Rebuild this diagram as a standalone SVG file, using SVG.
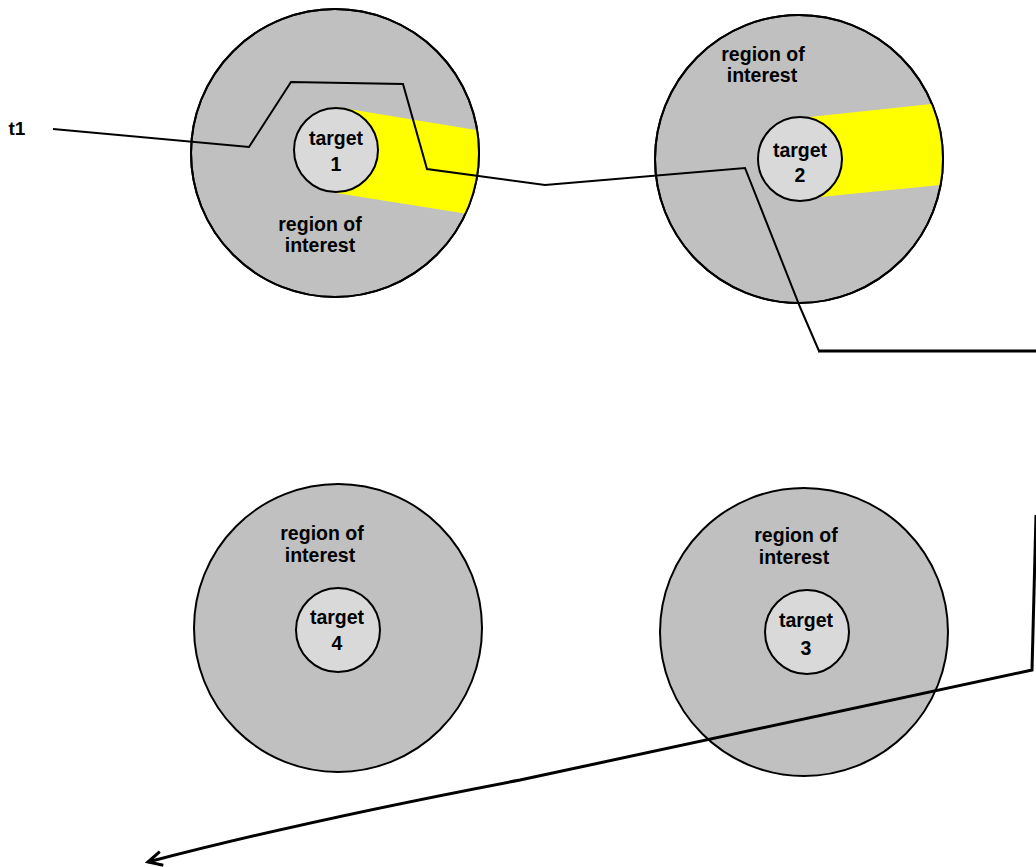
<svg xmlns="http://www.w3.org/2000/svg" width="1036" height="867" viewBox="0 0 1036 867">
<style>
.roi{fill:#c0c0c0;stroke:#000;stroke-width:2}
.tgt{fill:#d9d9d9;stroke:#000;stroke-width:2}
.band{fill:#ffff00}
text{font-family:"Liberation Sans",Arial,sans-serif;font-weight:bold;font-size:19.5px;fill:#000;text-anchor:middle}
.path{fill:none;stroke:#000;stroke-linejoin:miter}
</style>
<defs>
<clipPath id="c1"><circle cx="335" cy="153" r="144"/></clipPath>
<clipPath id="c2"><circle cx="799" cy="159" r="144"/></clipPath>
<marker id="arr" markerWidth="20" markerHeight="20" refX="17" refY="8" orient="auto" markerUnits="userSpaceOnUse" viewBox="0 0 20 16">
<path d="M3 1 L17 8 L3 15" fill="none" stroke="#000" stroke-width="3"/>
</marker>
</defs>
<rect width="1036" height="867" fill="#fff"/>

<g id="node-roi1">
<circle class="roi" cx="335" cy="153" r="144"/>
<polygon class="band" clip-path="url(#c1)" points="336,107 500,134 500,219 336,193"/>
<circle class="roi" cx="335" cy="153" r="144" style="fill:none"/>
<circle class="tgt" cx="336" cy="150" r="42"/>
<text x="336" y="145">target</text>
<text x="336" y="171">1</text>
<text x="320" y="231">region of</text>
<text x="320" y="252">interest</text>
</g>

<g id="node-roi2">
<circle class="roi" cx="799" cy="159" r="144"/>
<polygon class="band" clip-path="url(#c2)" points="800,118 960,101 960,183 800,199"/>
<circle class="roi" cx="799" cy="159" r="144" style="fill:none"/>
<circle class="tgt" cx="800" cy="159" r="42"/>
<text x="800" y="157">target</text>
<text x="800" y="182">2</text>
<text x="763" y="61">region of</text>
<text x="762" y="82">interest</text>
</g>

<g id="node-roi4">
<circle class="roi" cx="338" cy="628" r="144"/>
<circle class="tgt" cx="338" cy="630" r="42"/>
<text x="337" y="624">target</text>
<text x="337" y="650">4</text>
<text x="322" y="540">region of</text>
<text x="320" y="562">interest</text>
</g>

<g id="node-roi3">
<circle class="roi" cx="804" cy="632" r="144"/>
<circle class="tgt" cx="807" cy="632" r="42"/>
<text x="806" y="627">target</text>
<text x="806" y="655">3</text>
<text x="796" y="542">region of</text>
<text x="794" y="564">interest</text>
</g>

<g id="label-t1">
<text x="17" y="135" style="font-size:19px">t1</text>
</g>

<g id="connectors">
<polyline class="path" stroke-width="2" points="53,129 249,147 291,82 403,84 427,169 545,185 745,168 800,307 819,351"/>
<polyline class="path" stroke-width="3" points="818,351 1040,351"/>
<path class="path" stroke-width="3" marker-end="url(#arr)" d="M1036,515 L1032,670 L520,780 Q300,822 148,862"/>
</g>
</svg>
